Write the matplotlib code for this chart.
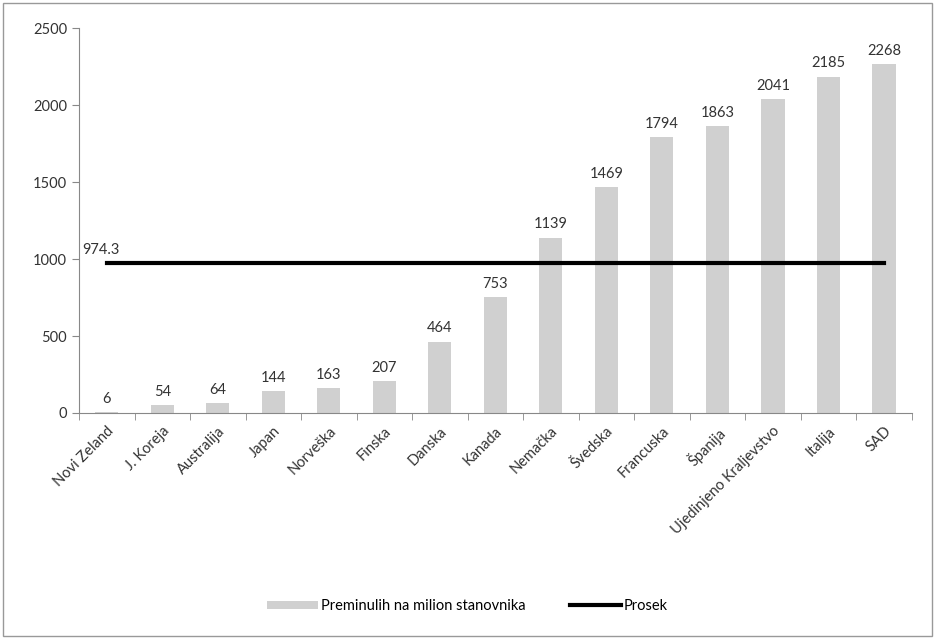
import numpy as np
import matplotlib.pyplot as plt
from matplotlib.patches import Rectangle

plt.rcParams['font.family'] = ['Lato', 'DejaVu Sans']

zemlje = ["Novi Zeland", "J. Koreja", "Australija", "Japan", "Norveška", "Finska",
          "Danska", "Kanada", "Nemačka", "Švedska", "Francuska", "Španija",
          "Ujedinjeno Kraljevstvo", "Italija", "SAD"]
preminuli = [6, 54, 64, 144, 163, 207, 464, 753, 1139, 1469, 1794, 1863, 2041, 2185, 2268]
prosek = 974.3

fig = plt.figure(figsize=(9.35, 6.39), dpi=100)
ax = fig.add_axes([0.0845, 0.3537, 0.8905, 0.6023])

x = np.arange(len(zemlje))
bars = ax.bar(x, preminuli, width=0.42, color='#d0d0d0', label='Preminulih na milion stanovnika', zorder=1)
line, = ax.plot([x[0], x[-1]], [prosek, prosek], color='black', lw=3, label='Prosek', zorder=2)

for xi, v in zip(x, preminuli):
    ax.text(xi, v + 40, str(v), ha='center', va='bottom', fontsize=10.5, color='#333333')
ax.text(x[0] - 0.45, prosek + 40, '974.3', ha='left', va='bottom', fontsize=10.5, color='#333333')

ax.set_xlim(-0.5, len(zemlje) - 0.5)
ax.set_ylim(0, 2500)
ax.set_yticks(np.arange(0, 2501, 500))
ax.set_xticks(x)
ax.set_xticklabels(zemlje, rotation=45, ha='right', rotation_mode='anchor', fontsize=10.5, color='#333333')
ax.set_xticks(np.arange(-0.5, len(zemlje), 1), minor=True)
ax.tick_params(axis='x', which='major', length=0, pad=8)
ax.tick_params(axis='x', which='minor', length=5, color='#888888')
ax.tick_params(axis='y', length=5, color='#888888', labelsize=10.5, labelcolor='#333333')

for s in ['top', 'right']:
    ax.spines[s].set_visible(False)
for s in ['left', 'bottom']:
    ax.spines[s].set_color('#888888')

fig.legend(handles=[bars, line], loc='lower center', bbox_to_anchor=(0.5, 0.02), ncol=2, frameon=False,
           fontsize=10.5, handlelength=3.5, handleheight=0.5, handletextpad=0.2, columnspacing=3)

fig.patches.append(Rectangle((0.003, 0.005), 0.994, 0.99, transform=fig.transFigure,
                             fill=False, edgecolor='#999999', lw=1))

fig.savefig('out.png', dpi=100)
